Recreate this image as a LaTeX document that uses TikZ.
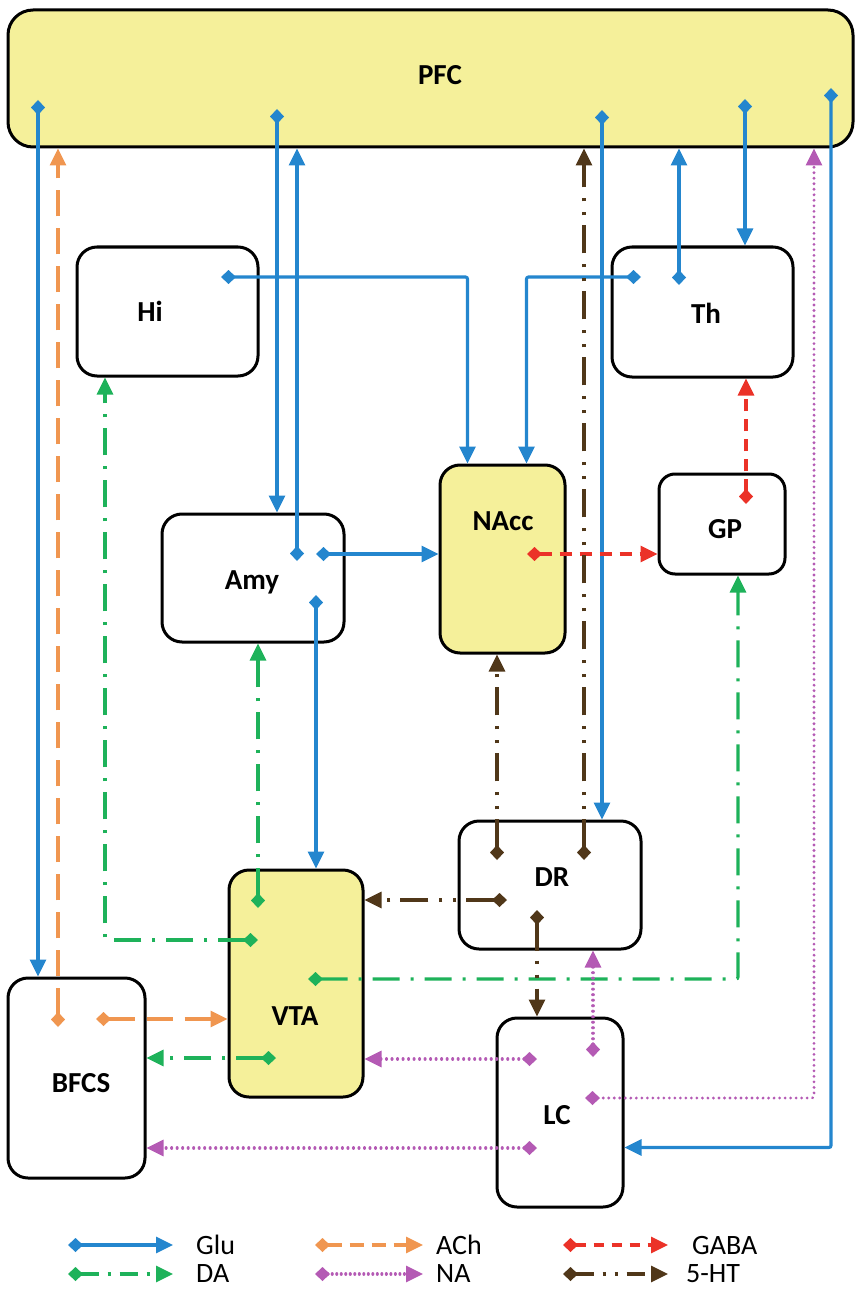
\documentclass[tikz,border=0pt]{standalone}
\usepackage{fontspec}
\setmainfont{Carlito}
\usetikzlibrary{arrows.meta}
\definecolor{glucol}{RGB}{36,134,206}
\definecolor{achcol}{RGB}{240,150,80}
\definecolor{gabacol}{RGB}{235,50,40}
\definecolor{dacol}{RGB}{30,178,90}
\definecolor{nacol}{RGB}{180,90,180}
\definecolor{htcol}{RGB}{80,55,25}
\definecolor{pfcyellow}{RGB}{245,240,154}
\begin{document}
\begin{tikzpicture}[x=1pt,y=-1pt,
 box/.style={draw=black, line width=3pt, rounded corners=20pt, fill=white, inner sep=0pt},
 ybox/.style={box, fill=pfcyellow},
 lab/.style={font=\fontsize{29}{32}\selectfont\bfseries, inner sep=0pt},
 leg/.style={font=\fontsize{28}{30}\selectfont, anchor=west, inner sep=0pt},
 con/.style={line width=3.1pt, rounded corners=2pt, {Diamond[length=15pt,width=14pt]}-{Triangle[length=17pt,width=16pt]}},
 glu/.style={con, color=glucol},
 ach/.style={con, color=achcol, dash pattern=on 26pt off 12pt},
 gaba/.style={con, color=gabacol, dash pattern=on 12pt off 8pt},
 da/.style={con, color=dacol, dash pattern=on 27pt off 11pt on 3pt off 11pt},
 na/.style={con, color=nacol, line cap=round, dash pattern=on 0.01pt off 5.5pt},
 ht/.style={con, color=htcol, dash pattern=on 28pt off 10pt on 3pt off 11pt on 3pt off 11pt},
]
\useasboundingbox (0,0) rectangle (855,1297);
% boxes
\node[ybox, rounded corners=25pt, minimum width=845pt, minimum height=137pt] (PFC) at (430.5,78.5) {};
\node[box, minimum width=181pt, minimum height=129pt] (Hi) at (167.5,311.5) {};
\node[box, minimum width=181pt, minimum height=130pt] (Th) at (702.5,312) {};
\node[box, minimum width=182pt, minimum height=128pt] (Amy) at (253,578) {};
\node[ybox, minimum width=125pt, minimum height=188pt] (NAcc) at (502.5,559) {};
\node[box, rounded corners=16pt, minimum width=126pt, minimum height=100pt] (GP) at (722,524) {};
\node[box, minimum width=182pt, minimum height=128pt] (DR) at (550,885) {};
\node[ybox, minimum width=134pt, minimum height=227pt] (VTA) at (296,983.5) {};
\node[box, minimum width=137pt, minimum height=200pt] (BFCS) at (76.5,1078) {};
\node[box, minimum width=126pt, minimum height=189pt] (LC) at (560,1112.5) {};
% labels
\node[lab] (PFCl) at (440,75) {PFC};
\node[lab] (Hil) at (150,311) {Hi};
\node[lab] (Thl) at (706,313) {Th};
\node[lab] (Amyl) at (252,582) {Amy};
\node[lab] (NAccl) at (503,521) {NAcc};
\node[lab] (GPl) at (725,529) {GP};
\node[lab] (DRl) at (552,877) {DR};
\node[lab] (VTAl) at (295,1016) {VTA};
\node[lab] (BFCSl) at (81,1083) {BFCS};
\node[lab] (LCl) at (557,1115) {LC};
% start coordinates
\coordinate (g1) at (38,100);
\coordinate (g2) at (277,109);
\coordinate (g3) at (297,561);
\coordinate (g4) at (221,277);
\coordinate (g5) at (641,277);
\coordinate (g6) at (679,285);
\coordinate (g7) at (745,99);
\coordinate (g8) at (602,110);
\coordinate (g9) at (831,88);
\coordinate (g10) at (316,554);
\coordinate (g11) at (316,595);
\coordinate (r1) at (527,554);
\coordinate (r2) at (746,504);
\coordinate (a1) at (58,1027);
\coordinate (a2) at (96,1019);
\coordinate (d1) at (258,908);
\coordinate (d2) at (258,940);
\coordinate (d3) at (308,979);
\coordinate (d4) at (276,1058);
\coordinate (n1) at (537,1059);
\coordinate (n2) at (537,1148);
\coordinate (n3) at (593,1057);
\coordinate (n4) at (585,1098);
\coordinate (h1) at (497,860);
\coordinate (h2) at (584,860);
\coordinate (h3) at (507,900);
\coordinate (h4) at (537,910);
% Glu
\draw[glu] (g1) -- (g1 |- BFCS.north);
\draw[glu] (g2) -- (g2 |- Amy.north);
\draw[glu] (g3) -- (g3 |- PFC.south);
\draw[glu] (g4) -| ([xshift=-35pt]NAcc.north);
\draw[glu] (g5) -| ([xshift=24pt]NAcc.north);
\draw[glu] (g6) -- (g6 |- PFC.south);
\draw[glu] (g7) -- (g7 |- Th.north);
\draw[glu] (g8) -- (g8 |- DR.north);
\draw[glu] (g9) |- ([yshift=-35pt]LC.east);
\draw[glu] (g10) -- (g10 -| NAcc.west);
\draw[glu] (g11) -- (g11 |- VTA.north);
% GABA
\draw[gaba] (r1) -- (r1 -| GP.west);
\draw[gaba] (r2) -- (r2 |- Th.south);
% ACh
\draw[ach] (a1) -- (a1 |- PFC.south);
\draw[ach] (a2) -- (a2 -| VTA.west);
% DA
\draw[da] (d1) -- (d1 |- Amy.south);
\draw[da] (d2) -| ([xshift=-62.5pt]Hi.south);
\draw[da] (d3) -| ([xshift=16pt]GP.south);
\draw[da] (d4) -- (d4 -| BFCS.east);
% NA
\draw[na] (n1) -- (n1 -| VTA.east);
\draw[na] (n2) -- (n2 -| BFCS.east);
\draw[na] (n3) -- (n3 |- DR.south);
\draw[na] (n4) -| ([xshift=383.5pt]PFC.south);
% 5-HT
\draw[ht] (h1) -- (h1 |- NAcc.south);
\draw[ht] (h2) -- (h2 |- PFC.south);
\draw[ht] (h3) -- (h3 -| VTA.east);
\draw[ht] (h4) -- (h4 |- LC.north);
% legend
\coordinate (L1s) at (68,1245); \coordinate (L1e) at (173,1245);
\coordinate (L2s) at (315,1245); \coordinate (L2e) at (423,1245);
\coordinate (L3s) at (563,1245); \coordinate (L3e) at (668,1245);
\coordinate (L4s) at (68,1274); \coordinate (L4e) at (173,1274);
\coordinate (L5s) at (315,1274); \coordinate (L5e) at (423,1274);
\coordinate (L6s) at (563,1274); \coordinate (L6e) at (668,1274);
\draw[glu] (L1s) -- (L1e);
\draw[ach, dash pattern=on 14pt off 8pt] (L2s) -- (L2e);
\draw[gaba, dash pattern=on 10pt off 8pt] (L3s) -- (L3e);
\draw[da, dash pattern=on 18pt off 9pt on 3pt off 9pt] (L4s) -- (L4e);
\draw[na, dash pattern=on 0.01pt off 4.5pt] (L5s) -- (L5e);
\draw[ht, dash pattern=on 18pt off 9pt on 3pt off 9pt on 3pt off 9pt] (L6s) -- (L6e);
\node[leg] (t1) at (196,1245) {Glu};
\node[leg] (t2) at (436,1245) {ACh};
\node[leg] (t3) at (692,1245) {GABA};
\node[leg] (t4) at (196,1274) {DA};
\node[leg] (t5) at (436,1274) {NA};
\node[leg] (t6) at (686,1274) {5-HT};
\end{tikzpicture}
\end{document}
